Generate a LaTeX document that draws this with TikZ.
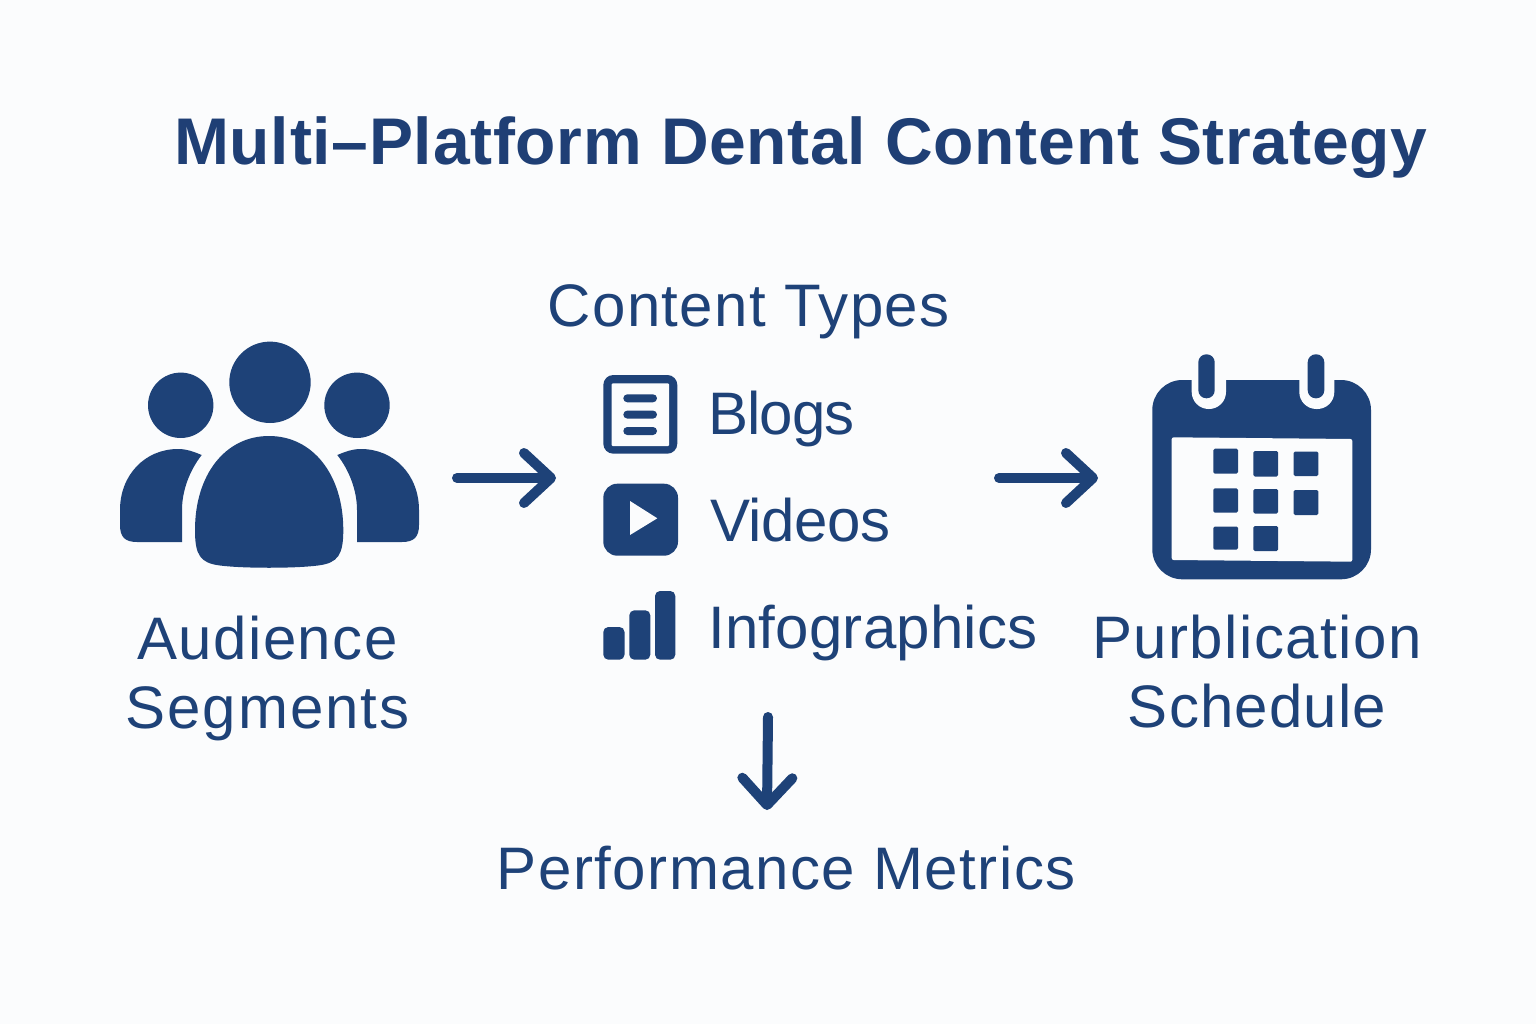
\documentclass[tikz,border=0pt]{standalone}
\usepackage{fontspec}
\setmainfont{Liberation Sans}
\usetikzlibrary{arrows.meta,positioning}
\definecolor{paper}{HTML}{FBFCFD}
\definecolor{navy}{HTML}{1E4278}
\definecolor{titlenavy}{HTML}{1F3F75}
\newcommand{\tracked}[2]{{\addfontfeature{LetterSpace=#1}#2}}
\tikzset{
  titletext/.style={anchor=base west, inner sep=0pt, text=titlenavy, font=\fontsize{66}{70}\selectfont\bfseries},
  labeltext/.style={anchor=base west, inner sep=0pt, text=navy, font=\fontsize{60}{69}\selectfont},
  grouptext/.style={labeltext, anchor=north, align=center},
  icon/.style={fill=navy, draw=none},
  flowarrow/.style={draw=navy, line width=10pt, line cap=round, line join=round, -{Straight Barb[round, length=27pt, width=50pt]}},
}
\begin{document}
\begin{tikzpicture}[x=1pt,y=-1pt]
\useasboundingbox (0,0) rectangle (1536,1024);
\fill[paper] (0,0) rectangle (1536,1024);

\node (title) at (174,165) [titletext] {\tracked{1.1}{Multi–Platform Dental Content Strategy}};
\node (types_head) at (547.5,326) [labeltext] {\tracked{2.3}{Content Types}};
\node (blogs_label) at (708,434) [labeltext] {\tracked{-1.6}{Blogs}};
\node (videos_label) at (710,541) [labeltext] {\tracked{-0.7}{Videos}};
\node (info_label) at (708,648) [labeltext] {\tracked{0.4}{Infographics}};
\node (audience_label) at (267.5,616) [grouptext] {\tracked{2.3}{Audience}\\\tracked{3.2}{Segments}};
\node (schedule_label) at (1257,615) [grouptext] {\tracked{2.5}{Purblication}\\\tracked{1.9}{Schedule}};
\node (metrics_label) at (496.5,889) [labeltext] {\tracked{2.5}{Performance Metrics}};

% audience icon
\fill[icon] (270,382.3) circle[radius=40.7pt];
\fill[icon] (180.7,405.3) circle[radius=32.7pt];
\fill[icon] (357,405.3) circle[radius=32.7pt];
\fill[icon] (195,530) .. controls (195,475) and (225,436) .. (269,436) .. controls (313,436) and (343.3,475) .. (343.3,530) .. controls (343.3,555) and (338,563) .. (318,565.5) .. controls (295,568.5) and (243,568.5) .. (220,565.5) .. controls (200,563) and (195,555) .. (195,530) -- cycle;
\fill[icon] (201.7,455) .. controls (192,451) and (186,449) .. (178,449) .. controls (145,449) and (120,475) .. (120,510) -- (120,525) .. controls (120,537) and (125,542) .. (137,542) -- (182,542) -- (182,510) .. controls (182,490) and (190,470) .. (201.7,455) -- cycle;
\fill[icon] (337.3,455) .. controls (347,451) and (353,449) .. (361,449) .. controls (394,449) and (419,475) .. (419,510) -- (419,525) .. controls (419,537) and (414,542) .. (402,542) -- (357,542) -- (357,510) .. controls (357,490) and (349,470) .. (337.3,455) -- cycle;

% blog icon
\fill[icon, rounded corners=10pt] (603.3,375) rectangle (677.3,453.7);
\fill[paper, rounded corners=1pt] (611.7,383.3) rectangle (669,446);
\foreach \liney in {398.3,414.6,431}
  \fill[icon, rounded corners=4pt] (623.3,\liney-4) rectangle (657,\liney+4);

% video icon
\fill[icon, rounded corners=14pt] (603.3,483.7) rectangle (678,555.7);
\fill[paper] (630,501) -- (657.3,518.3) -- (630,535) -- cycle;

% bars icon
\fill[icon, rounded corners=5pt] (603.3,627) rectangle (624.5,659.7);
\fill[icon, rounded corners=5pt] (629.3,610.3) rectangle (650.3,659.7);
\fill[icon, rounded corners=5pt] (655,591) rectangle (675.3,659.7);

% calendar icon
\fill[icon, rounded corners=30pt] (1152.3,380) rectangle (1371,579.3);
\fill[paper, rounded corners=17pt] (1191.7,350) rectangle (1226,409);
\fill[paper, rounded corners=17pt] (1299.3,350) rectangle (1334.3,409);
\fill[icon, rounded corners=8pt] (1198.3,354.3) rectangle (1214.7,398.3);
\fill[icon, rounded corners=8pt] (1307.7,354.3) rectangle (1324.3,398.3);
\fill[paper, rounded corners=2pt] (1171.7,437.3) -- (1352.3,439) -- (1352.3,561.7) -- (1171.7,560) -- cycle;
\foreach \cx/\cy/\dx/\dy in {1213.3/448.7/24.7/25, 1253.3/451/24.7/25.5, 1293.7/451.5/24.6/24.5,
    1213.3/488.3/24.7/24.4, 1253.3/489/24.7/24.5, 1293.7/490/24.6/25,
    1213.3/526.5/24.7/23.2, 1253.3/526/24.7/25}
  \fill[icon, rounded corners=1.5pt] (\cx,\cy) rectangle (\cx+\dx,\cy+\dy);

% flow arrows
\coordinate (audience_out) at (457,478);
\coordinate (types_in) at (556,478);
\coordinate (types_out) at (999,478);
\coordinate (schedule_in) at (1098,478);
\coordinate (types_down) at (768,717);
\coordinate (metrics_in) at (767,810);
\draw[flowarrow] (audience_out) -- (types_in);
\draw[flowarrow] (types_out) -- (schedule_in);
\draw[flowarrow] (types_down) -- (metrics_in);
\end{tikzpicture}
\end{document}
